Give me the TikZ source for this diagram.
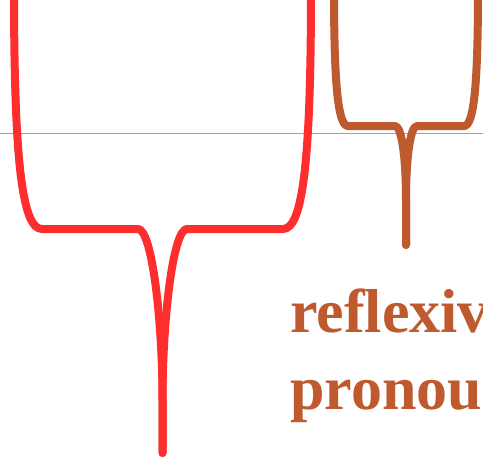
\documentclass[tikz,border=0pt]{standalone}
\usepackage{fontspec}
\setmainfont{Liberation Serif}
\definecolor{bred}{RGB}{255,46,46}
\definecolor{bbrown}{RGB}{190,90,45}
\definecolor{lgray}{RGB}{160,160,160}
\begin{document}
\begin{tikzpicture}[x=1pt,y=-1pt,
  redline/.style={draw=bred,line width=8pt,line cap=round,line join=round},
  brownline/.style={draw=bbrown,line width=8pt,line cap=round,line join=round},
  baseline/.style={draw=lgray,line width=1.5pt},
  lbl/.style={inner sep=0pt,anchor=base west,text=bbrown,font=\bfseries\fontsize{62}{76}\selectfont}]
\useasboundingbox (0,0) rectangle (483,458);
\fill[white] (0,0) rectangle (483,458);
% gray reference line
\coordinate (gl) at (-5,133.5);
\coordinate (gr) at (490,133.5);
\draw[baseline] (gl) -- (gr);
% red bracket
\coordinate (rtl) at (14,-12);
\coordinate (rtr) at (311,-12);
\coordinate (rbot) at (162.5,453);
\draw[redline] (rtl) .. controls (14,160) and (22,229) .. (42,229) -- (138,229)
  .. controls (152,229) and (162.5,320) .. (162.5,400) -- (rbot);
\draw[redline] (rtr) .. controls (311,160) and (303,229) .. (283,229) -- (187,229)
  .. controls (173,229) and (162.5,320) .. (162.5,400) -- (rbot);
% brown bracket
\coordinate (btl) at (334,-12);
\coordinate (btr) at (478,-12);
\coordinate (bbot) at (406,245);
\draw[brownline] (btl) .. controls (334,85) and (338,126) .. (348,126) -- (395,126)
  .. controls (402,126) and (406,160) .. (406,200) -- (bbot);
\draw[brownline] (btr) .. controls (478,85) and (474,126) .. (464,126) -- (417,126)
  .. controls (410,126) and (406,160) .. (406,200) -- (bbot);
% text
\node[lbl] (t1) at (290,332) {reflexive};
\node[lbl] (t2) at (290,409) {pronoun};
\end{tikzpicture}
\end{document}
